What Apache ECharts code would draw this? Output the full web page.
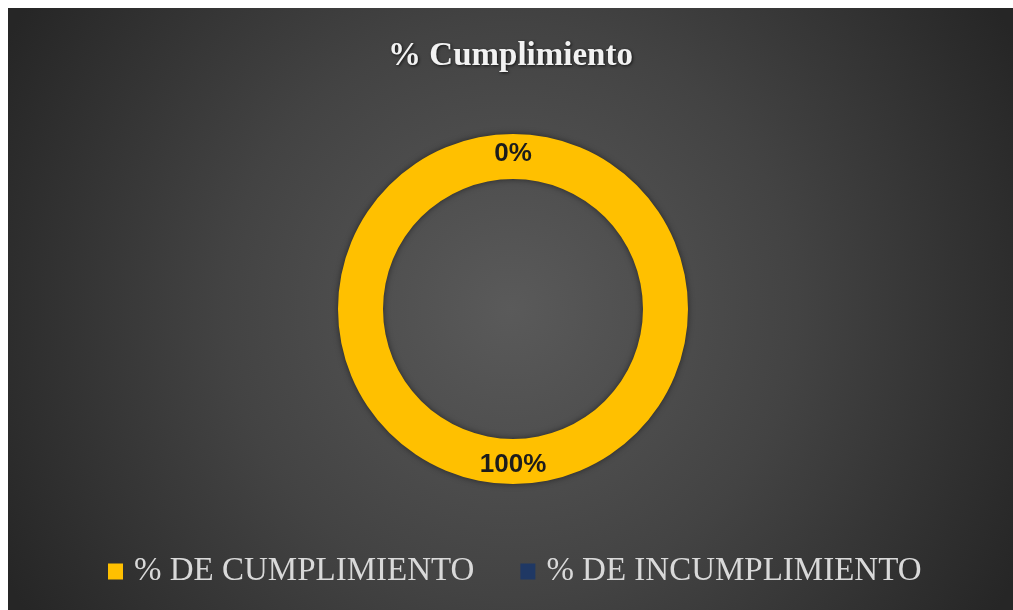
<!DOCTYPE html>
<html>
<head>
<meta charset="utf-8">
<script src="https://cdn.jsdelivr.net/npm/echarts@6/dist/echarts.min.js"></script>
<style>
  html, body { margin: 0; padding: 0; background: #fff; }
  #main { position: absolute; left: 8px; top: 8px; width: 1005px; height: 602px; }
</style>
</head>
<body>
<div id="main"></div>
<script>
  // datos del grafico
  let categorias = ['% DE CUMPLIMIENTO', '% DE INCUMPLIMIENTO'];
  let valores = [100, 0];
  let colores = ['#FFC000', '#1F3864'];

  let pieData = categorias.map((name, i) => ({
    name,
    value: valores[i],
    itemStyle: { color: colores[i] }
  }));

  var myChart = echarts.init(document.getElementById('main'));
  var option = {
    backgroundColor: {
      type: 'radial',
      x: 0.5, y: 0.5, r: 0.95,
      colorStops: [
        { offset: 0, color: '#5a5a5a' },
        { offset: 0.5, color: '#434343' },
        { offset: 1, color: '#262626' }
      ]
    },
    title: {
      text: '% Cumplimiento',
      left: 'center',
      top: 27,
      textStyle: {
        fontFamily: 'Liberation Serif',
        fontWeight: 'bold',
        fontSize: 33,
        color: '#f2f2f2',
        textShadowColor: 'rgba(0,0,0,0.7)',
        textShadowBlur: 3,
        textShadowOffsetX: 1,
        textShadowOffsetY: 1
      }
    },
    legend: {
      data: categorias,
      bottom: 17,
      left: 95,
      icon: 'rect',
      itemWidth: 15,
      itemHeight: 16,
      itemGap: 46,
      textStyle: {
        fontFamily: 'Liberation Serif',
        fontSize: 33,
        color: '#d9d9d9',
        padding: [0, 0, 0, 6]
      }
    },
    series: [
      {
        name: 'Cumplimiento',
        type: 'pie',
        center: [505, 301],
        radius: [130, 175],
        startAngle: 90,
        clockwise: true,
        silent: true,
        data: pieData,
        label: {
          show: true,
          position: 'inside',
          formatter: '{d}%',
          fontFamily: 'Liberation Sans',
          fontWeight: 'bold',
          fontSize: 26,
          color: '#1c1c1c'
        },
        labelLine: { show: false },
        itemStyle: {
          shadowBlur: 6,
          shadowColor: 'rgba(0,0,0,0.5)'
        }
      }
    ]
  };
  myChart.setOption(option);
</script>
</body>
</html>
